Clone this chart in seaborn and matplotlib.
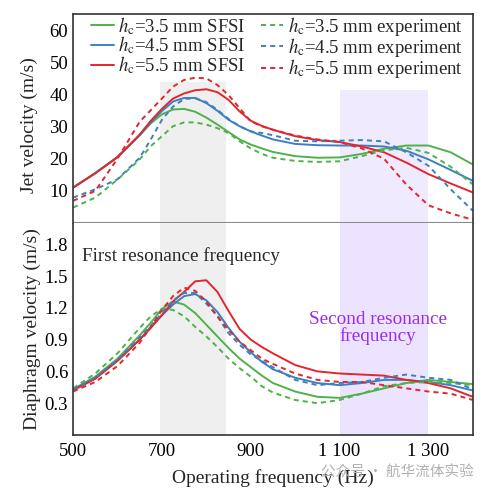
import numpy as np
import pandas as pd
import matplotlib
matplotlib.use('Agg')
import matplotlib.pyplot as plt
import seaborn as sns
from matplotlib.ticker import MultipleLocator, FixedLocator

# --- estilo general ---
sns.set_style('white')
plt.rcParams['font.family'] = ['Liberation Serif', 'DejaVu Serif']
plt.rcParams['mathtext.fontset'] = 'stix'

# --- datos ---
freq = [500, 550, 600, 650, 675, 700, 725, 750, 775, 800, 825, 850, 875, 900,
        925, 950, 1000, 1050, 1100, 1150, 1200, 1250, 1300, 1350, 1400]

# velocidad del chorro (m/s)
jet_35_sfsi = [11.0, 15.5, 20.5, 27.3, 31.0, 33.8, 35.3, 35.5, 34.6, 32.8, 30.6, 28.3, 26.0,
               24.4, 23.2, 22.1, 20.8, 20.3, 20.4, 21.5, 23.1, 24.1, 24.1, 22.0, 18.2]
jet_45_sfsi = [11.0, 15.5, 20.5, 27.3, 31.3, 34.8, 37.8, 38.9, 38.9, 37.3, 34.9, 32.1, 30.1,
               28.5, 27.2, 26.0, 24.6, 24.2, 24.1, 24.1, 23.8, 22.5, 19.8, 16.5, 13.1]
jet_55_sfsi = [11.0, 15.5, 20.5, 27.5, 31.8, 35.5, 38.7, 40.3, 41.3, 41.6, 40.7, 38.3, 34.7,
               31.8, 30.2, 29.0, 27.0, 25.8, 25.2, 23.8, 22.0, 18.8, 15.2, 12.3, 9.5]
jet_35_exp = [4.8, 7.9, 13.5, 19.8, 23.9, 27.0, 30.1, 31.3, 31.3, 30.6, 29.5, 28.0, 25.4,
              23.2, 21.5, 20.3, 19.3, 19.0, 19.2, 20.8, 22.6, 23.4, 21.8, 17.5, 12.0]
jet_45_exp = [7.9, 10.5, 13.6, 20.3, 26.0, 32.1, 36.2, 38.6, 38.8, 37.6, 35.2, 32.4, 30.1,
              28.5, 28.0, 27.3, 25.6, 25.4, 25.6, 25.8, 25.4, 22.0, 17.8, 10.5, 3.8]
jet_55_exp = [6.9, 10.0, 20.0, 31.5, 35.1, 38.7, 42.4, 44.5, 45.2, 45.0, 42.9, 39.8, 35.7,
              31.6, 30.1, 29.0, 27.2, 26.0, 25.2, 23.2, 20.0, 12.0, 5.5, 3.0, 1.0]

# velocidad del diafragma (m/s)
dia_35_sfsi = [0.43, 0.55, 0.72, 0.94, 1.06, 1.19, 1.26, 1.23, 1.15, 1.04, 0.93, 0.82, 0.72,
               0.64, 0.56, 0.49, 0.41, 0.36, 0.35, 0.39, 0.44, 0.49, 0.52, 0.50, 0.48]
dia_45_sfsi = [0.43, 0.54, 0.70, 0.90, 1.02, 1.13, 1.23, 1.31, 1.33, 1.27, 1.16, 1.01, 0.88,
               0.78, 0.69, 0.62, 0.54, 0.49, 0.47, 0.49, 0.52, 0.52, 0.50, 0.47, 0.42]
dia_55_sfsi = [0.42, 0.53, 0.70, 0.90, 1.01, 1.13, 1.26, 1.35, 1.45, 1.46, 1.35, 1.17, 1.00,
               0.90, 0.83, 0.77, 0.66, 0.60, 0.58, 0.57, 0.56, 0.52, 0.49, 0.44, 0.36]
dia_35_exp = [0.44, 0.58, 0.77, 1.01, 1.12, 1.19, 1.18, 1.12, 1.02, 0.93, 0.83, 0.72, 0.63,
              0.55, 0.46, 0.40, 0.33, 0.30, 0.33, 0.39, 0.46, 0.49, 0.50, 0.49, 0.47]
dia_45_exp = [0.43, 0.54, 0.71, 0.92, 1.03, 1.15, 1.27, 1.34, 1.34, 1.24, 1.12, 0.96, 0.85,
              0.76, 0.70, 0.64, 0.52, 0.47, 0.49, 0.50, 0.54, 0.57, 0.54, 0.52, 0.43]
dia_55_exp = [0.41, 0.50, 0.65, 0.87, 1.02, 1.18, 1.31, 1.39, 1.36, 1.26, 1.12, 0.99, 0.88,
              0.80, 0.72, 0.67, 0.58, 0.52, 0.50, 0.50, 0.47, 0.44, 0.41, 0.39, 0.33]

heights = ['3.5', '4.5', '5.5']
colores = ['#4fb14c', '#3c80c2', '#e2262d']

# --- lienzo ---
fig = plt.figure(figsize=(4.87, 4.92), dpi=100)
ax1 = fig.add_axes([0.150, 0.5467, 0.821, 0.4248])
ax2 = fig.add_axes([0.150, 0.1159, 0.821, 0.4308])

# --- bandas de resonancia ---
ax1.axvspan(695, 845, ymax=44 / 65, color='#efefef', lw=0, zorder=0)
ax1.axvspan(1100, 1300, ymax=41.5 / 65, color='#f0eafe', lw=0, zorder=0)
ax2.axvspan(695, 845, color='#efefef', lw=0, zorder=0)
ax2.axvspan(1100, 1300, color='#ece4ff', lw=0, zorder=0)

# --- curvas ---
dash = (0, (2.6, 2.1))
jet_sfsi = [jet_35_sfsi, jet_45_sfsi, jet_55_sfsi]
jet_exp = [jet_35_exp, jet_45_exp, jet_55_exp]
dia_sfsi = [dia_35_sfsi, dia_45_sfsi, dia_55_sfsi]
dia_exp = [dia_35_exp, dia_45_exp, dia_55_exp]

for h, c, ys in zip(heights, colores, jet_sfsi):
    sns.lineplot(x=freq, y=ys, color=c, lw=1.4, ax=ax1,
                 label=r'$h_\mathrm{c}$=' + h + ' mm SFSI')
for h, c, ys in zip(heights, colores, jet_exp):
    sns.lineplot(x=freq, y=ys, color=c, lw=1.4, linestyle=dash, ax=ax1,
                 label=r'$h_\mathrm{c}$=' + h + ' mm experiment')
for c, ys in zip(colores, dia_sfsi):
    sns.lineplot(x=freq, y=ys, color=c, lw=1.4, ax=ax2)
for c, ys in zip(colores, dia_exp):
    sns.lineplot(x=freq, y=ys, color=c, lw=1.4, linestyle=dash, ax=ax2)

# --- ejes ---
for ax in (ax1, ax2):
    ax.set_xlim(500, 1400)
    ax.set_facecolor('white')
    for s in ax.spines.values():
        s.set_color('#333333')
        s.set_linewidth(1.2)
    ax.tick_params(direction='in', length=4, width=1, colors='#333333',
                   labelcolor='black', labelsize=13.5)

ax1.set_ylim(0, 65)
ax1.set_yticks([10, 20, 30, 40, 50, 60])
ax1.set_xticks([])
ax1.spines['bottom'].set_color('#8a8a8a')
ax1.spines['bottom'].set_linewidth(1.5)
ax1.set_ylabel('Jet velocity (m/s)', fontsize=14)
ax1.yaxis.set_label_coords(-0.088, 0.47)

ax2.set_ylim(0, 2.0)
ax2.set_yticks([0.3, 0.6, 0.9, 1.2, 1.5, 1.8])
ax2.set_yticklabels(['0.3', '0.6', '0.9', '1.2', '1.5', '1.8'])
ax2.spines['top'].set_visible(False)
ax2.xaxis.set_major_locator(FixedLocator([500, 700, 900, 1100, 1300]))
ax2.set_xticklabels(['500', '700', '900', '1 100', '1 300'])
ax2.xaxis.set_minor_locator(MultipleLocator(50))
ax2.tick_params(axis='x', which='minor', direction='in', length=4, width=1,
                colors='#333333')
ax2.tick_params(axis='x', pad=6)
ax2.set_ylabel('Diaphragm velocity (m/s)', fontsize=14, labelpad=3)
ax2.set_xlabel('Operating frequency (Hz)', fontsize=14, labelpad=6)

# --- leyenda ---
ax1.legend(loc='upper center', bbox_to_anchor=(0.51, 1.05), ncol=2,
           frameon=False, fontsize=13.5, handlelength=1.2, handletextpad=0.25,
           columnspacing=0.8, labelspacing=-0.1, borderaxespad=0.2)

# --- anotaciones ---
ax2.text(521, 1.69, 'First resonance frequency', fontsize=13.8,
         ha='left', va='center')
ax2.text(1186, 1.01, 'Second resonance\nfrequency', fontsize=13.8,
         color='#9a2cf0', ha='center', va='center', linespacing=1.0)

fig.text(0.66, 0.04, '公众号 · 航华流体实验', fontsize=10.5, color='#b0b0b0',
         family=['Noto Sans CJK SC', 'DejaVu Sans'], ha='left', va='center')

plt.savefig('out.png', dpi=100, facecolor='white')
